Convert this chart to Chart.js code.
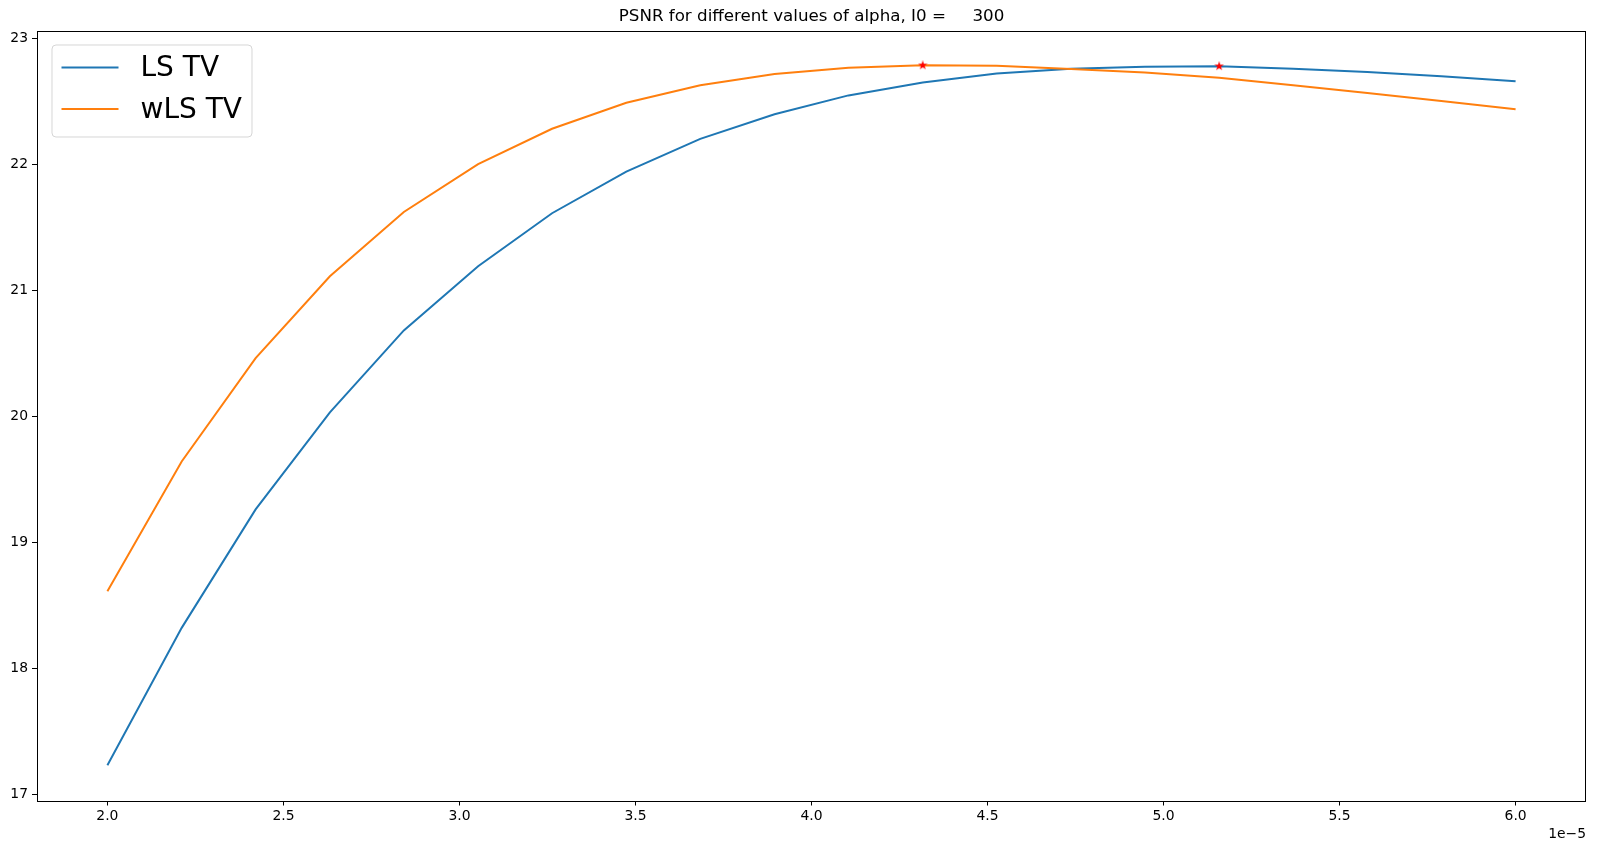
<!DOCTYPE html>
<html>
<head>
<meta charset="utf-8">
<title>PSNR for different values of alpha</title>
<script src="https://cdn.jsdelivr.net/npm/chart.js@4.4.0/dist/chart.umd.min.js"></script>
<style>
    html, body { margin: 0; padding: 0; background: #fff; }
    #wrap { width: 1597px; height: 852px; }
</style>
</head>
<body>
<div id="wrap"><canvas id="psnr-chart" width="1597" height="852"></canvas></div>
<script>
// alpha values, in units of 1e-5
const alphas = [2.000, 2.211, 2.421, 2.632, 2.842, 3.053, 3.263, 3.474, 3.684, 3.895,
                4.105, 4.316, 4.526, 4.737, 4.947, 5.158, 5.368, 5.579, 5.789, 6.000];
const psnrLS = [17.23, 18.32, 19.26, 20.03, 20.68, 21.19, 21.61, 21.94, 22.20, 22.395,
                22.545, 22.648, 22.718, 22.757, 22.773, 22.777, 22.757, 22.731, 22.696, 22.657];
const psnrWLS = [18.61, 19.64, 20.46, 21.11, 21.62, 22.00, 22.28, 22.487, 22.625, 22.715,
                 22.765, 22.784, 22.781, 22.755, 22.726, 22.686, 22.625, 22.564, 22.500, 22.435];
const seriesNames = ['LS TV', 'wLS TV'];
const xTicks = [2.0, 2.5, 3.0, 3.5, 4.0, 4.5, 5.0, 5.5, 6.0];
const yTicks = [17, 18, 19, 20, 21, 22, 23];
const I0 = 300;
const titleText = 'PSNR for different values of alpha, I0 =     ' + I0;

const FONT = "'DejaVu Sans', sans-serif";

// best alpha for each method -> red star
function bestPoint(values) {
    let k = 0;
    values.forEach((v, i) => { if (v > values[k]) k = i; });
    return [{x: alphas[k], y: values[k]}];
}

function starImage(size, color) {
    const c = document.createElement('canvas');
    c.width = size; c.height = size;
    const g = c.getContext('2d');
    const cx = size / 2, cy = size / 2, ro = size / 2, ri = ro * 0.381;
    g.beginPath();
    for (let i = 0; i < 10; i++) {
        const r = i % 2 ? ri : ro;
        const a = -Math.PI / 2 + i * Math.PI / 5;
        g.lineTo(cx + r * Math.cos(a), cy + r * Math.sin(a));
    }
    g.closePath();
    g.fillStyle = color;
    g.fill();
    return c;
}
const star = starImage(10, '#ff0000');

function toXY(values) {
    return values.map((v, i) => ({x: alphas[i], y: v}));
}

// axes frame on all four sides + title centred over the axes (like matplotlib)
const frame = {
    id: 'frame',
    afterDraw(chart) {
        const ctx = chart.ctx, a = chart.chartArea;
        ctx.save();
        ctx.strokeStyle = '#000';
        ctx.lineWidth = 1;
        ctx.strokeRect(Math.round(a.left) + 0.5, Math.round(a.top) + 0.5,
                       Math.round(a.right - a.left) - 1, Math.round(a.bottom - a.top));

        ctx.fillStyle = '#000';
        ctx.font = '16.7px ' + FONT;
        ctx.textAlign = 'center';
        ctx.textBaseline = 'middle';
        ctx.fillText(titleText, (a.left + a.right) / 2, a.top - 14);
        ctx.restore();
    }
};

// matplotlib-ish legend box in the upper left corner
const legendBox = {
    id: 'legendBox',
    afterDraw(chart) {
        const ctx = chart.ctx, a = chart.chartArea;
        const x = a.left + 14.5, y = a.top + 14, w = 200, h = 92, r = 4;
        ctx.save();
        ctx.beginPath();
        ctx.roundRect(x + 0.5, y + 0.5, w, h, r);
        ctx.fillStyle = 'rgba(255,255,255,0.8)';
        ctx.fill();
        ctx.strokeStyle = 'rgba(204,204,204,0.8)';
        ctx.lineWidth = 1;
        ctx.stroke();

        const items = chart.data.datasets.filter(d => !d.isMarker);
        items.sort((p, q) => seriesNames.indexOf(p.label) - seriesNames.indexOf(q.label));
        items.forEach((ds, i) => {
            const ly = y + 23 + i * 41.5;
            ctx.beginPath();
            ctx.moveTo(x + 10, ly);
            ctx.lineTo(x + 67, ly);
            ctx.strokeStyle = ds.borderColor;
            ctx.lineWidth = 2;
            ctx.stroke();
            ctx.fillStyle = '#000';
            ctx.font = '28px ' + FONT;
            ctx.textBaseline = 'middle';
            ctx.textAlign = 'left';
            ctx.fillText(ds.label, x + 89, ly + 1.5);
        });
        ctx.restore();
    }
};

const ctx = document.getElementById('psnr-chart').getContext('2d');
const chart = new Chart(ctx, {
    type: 'line',
    data: {
        datasets: [{
            label: 'best wLS',
            isMarker: true,
            data: bestPoint(psnrWLS),
            showLine: false,
            pointStyle: star,
            pointRadius: 5,
            order: 0
        },{
            label: 'best LS',
            isMarker: true,
            data: bestPoint(psnrLS),
            showLine: false,
            pointStyle: star,
            pointRadius: 5,
            order: 0
        },{
            label: seriesNames[1],
            data: toXY(psnrWLS),
            borderColor: '#ff7f0e',
            borderWidth: 2,
            pointRadius: 0,
            tension: 0,
            order: 1
        },{
            label: seriesNames[0],
            data: toXY(psnrLS),
            borderColor: '#1f77b4',
            borderWidth: 2,
            pointRadius: 0,
            tension: 0,
            order: 2
        }]
    },
    options: {
        responsive: false,
        animation: false,
        events: [],
        layout: {
            padding: {left: 0, right: 11, top: 30.5, bottom: 0}
        },
        plugins: {
            legend: {display: false},
            tooltip: {enabled: false},
            title: {display: false}
        },
        scales: {
            x: {
                type: 'linear',
                min: 1.8,
                max: 6.2,
                afterBuildTicks: (scale) => { scale.ticks = xTicks.map(v => ({value: v})); },
                afterFit: (scale) => { scale.height = 51.5; },
                grid: {
                    drawOnChartArea: false,
                    drawTicks: true,
                    tickLength: 5,
                    color: '#000'
                },
                border: {display: false},
                ticks: {
                    color: '#000',
                    padding: 3,
                    maxRotation: 0,
                    font: {family: FONT, size: 13.9},
                    callback: (v) => Number(v).toFixed(1)
                },
                title: {
                    display: true,
                    text: '1e\u22125',
                    align: 'end',
                    color: '#000',
                    font: {family: FONT, size: 13.9},
                    padding: {top: 0, bottom: 9}
                }
            },
            y: {
                type: 'linear',
                min: 16.95,
                max: 23.06,
                afterBuildTicks: (scale) => { scale.ticks = yTicks.map(v => ({value: v})); },
                afterFit: (scale) => { scale.width = 37; },
                grid: {
                    drawOnChartArea: false,
                    drawTicks: true,
                    tickLength: 5,
                    color: '#000'
                },
                border: {display: false},
                ticks: {
                    color: '#000',
                    padding: 4,
                    font: {family: FONT, size: 13.9},
                    callback: (v) => String(v)
                }
            }
        }
    },
    plugins: [frame, legendBox]
});
</script>
</body>
</html>
